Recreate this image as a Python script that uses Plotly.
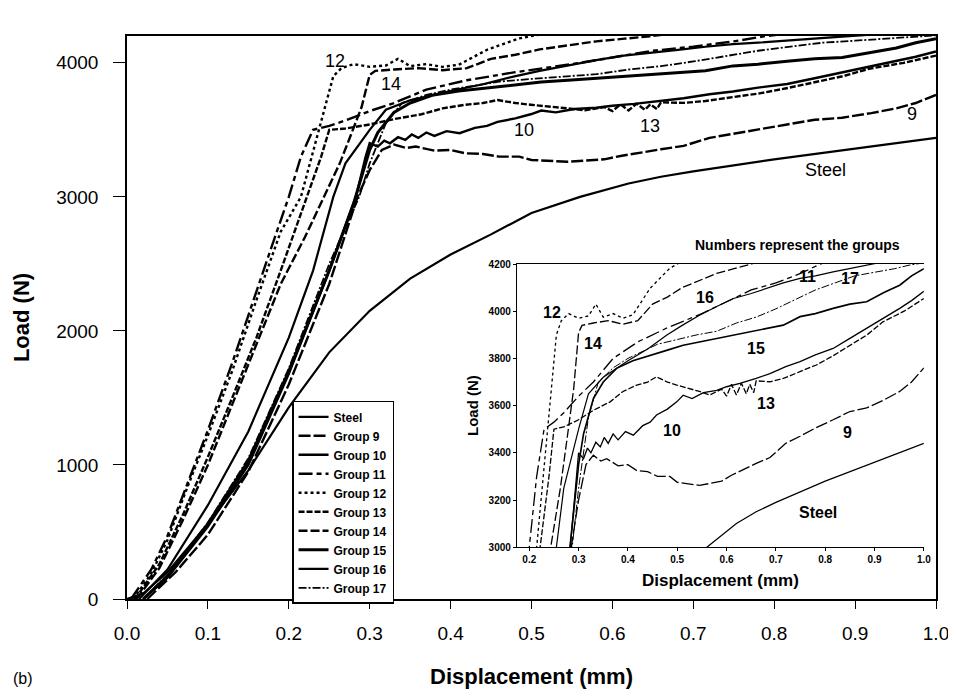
import plotly.graph_objects as go

# ---------------- data ----------------
steel_x = [0, 0.02, 0.05, 0.1, 0.15, 0.2, 0.25, 0.3, 0.35, 0.4, 0.45, 0.5, 0.56, 0.62, 0.66, 0.7, 0.8, 0.9, 1.0]
steel_y = [0, 40, 200, 560, 960, 1430, 1840, 2150, 2390, 2570, 2720, 2880, 3000, 3100, 3150, 3190, 3280, 3360, 3440]

g9_x = [0.025, 0.06, 0.1, 0.15, 0.2, 0.25, 0.285, 0.3, 0.315, 0.33, 0.345, 0.357, 0.38, 0.4, 0.418, 0.44, 0.46, 0.485, 0.5,
        0.526, 0.545, 0.566, 0.59, 0.61, 0.634, 0.66, 0.688, 0.72, 0.749, 0.78, 0.816, 0.85, 0.884, 0.92, 0.951, 0.975, 1.0]
g9_y = [0, 200, 480, 950, 1600, 2350, 3000, 3200, 3350, 3390, 3365, 3375, 3345, 3350, 3325, 3320, 3300, 3300, 3275,
        3268, 3262, 3270, 3280, 3305, 3330, 3355, 3380, 3440, 3470, 3505, 3540, 3575, 3590, 3625, 3660, 3700, 3760]

g10_x = [0.02, 0.05, 0.1, 0.15, 0.2, 0.25, 0.283, 0.295, 0.3, 0.31, 0.318, 0.325, 0.335, 0.344, 0.352, 0.36, 0.37, 0.38,
         0.395, 0.411, 0.43, 0.445, 0.458, 0.48, 0.499, 0.512, 0.53, 0.553, 0.58, 0.6, 0.627, 0.66, 0.688, 0.72, 0.749,
         0.78, 0.816, 0.85, 0.884, 0.92, 0.951, 0.975, 1.0]
g10_y = [0, 160, 540, 1000, 1680, 2450, 3000, 3300, 3400, 3375, 3420, 3400, 3445, 3425, 3465, 3440, 3480, 3455,
         3490, 3475, 3515, 3530, 3560, 3585, 3616, 3644, 3630, 3655, 3665, 3680, 3694, 3715, 3736, 3765, 3786,
         3815, 3842, 3885, 3927, 3975, 4012, 4045, 4085]

g11_x = [0.005, 0.03, 0.05, 0.075, 0.1, 0.13, 0.16, 0.18, 0.2, 0.215, 0.23, 0.25, 0.27, 0.3, 0.33, 0.37, 0.42, 0.48,
         0.55, 0.6, 0.65, 0.7, 0.75, 0.79, 0.85]
g11_y = [0, 220, 470, 870, 1260, 1760, 2300, 2650, 3000, 3300, 3500, 3530, 3570, 3640, 3700, 3800, 3870, 3930,
         3990, 4040, 4090, 4120, 4160, 4200, 4240]

g12_x = [0.008, 0.03, 0.05, 0.075, 0.1, 0.13, 0.16, 0.19, 0.215, 0.235, 0.255, 0.265, 0.28, 0.3, 0.32, 0.335, 0.35,
         0.37, 0.39, 0.41, 0.43, 0.445, 0.465, 0.485, 0.5, 0.55, 0.6]
g12_y = [0, 190, 440, 840, 1220, 1700, 2230, 2740, 3000, 3450, 3900, 3960, 3990, 3970, 3980, 4030, 3975,
         3990, 3970, 3985, 4050, 4097, 4140, 4182, 4200, 4250, 4300]

g13_x = [0.01, 0.04, 0.07, 0.1, 0.13, 0.16, 0.19, 0.222, 0.24, 0.25, 0.27, 0.3, 0.33, 0.364, 0.39, 0.418, 0.44, 0.458,
         0.48, 0.499, 0.526, 0.545, 0.566, 0.59, 0.6, 0.61, 0.62, 0.63, 0.64, 0.647, 0.655, 0.66, 0.688, 0.715, 0.75,
         0.782, 0.815, 0.85, 0.885, 0.917, 0.96, 1.0]
g13_y = [0, 260, 640, 1060, 1500, 1950, 2450, 3000, 3300, 3500, 3510, 3540, 3580, 3616, 3660, 3687, 3700, 3722,
         3700, 3687, 3673, 3660, 3645, 3670, 3640, 3690, 3645, 3695, 3650, 3690, 3655, 3705, 3701, 3715, 3745,
         3772, 3810, 3856, 3900, 3955, 4000, 4054]

g14_x = [0.012, 0.04, 0.07, 0.1, 0.13, 0.16, 0.19, 0.22, 0.243, 0.263, 0.276, 0.29, 0.3, 0.307, 0.33, 0.36, 0.39,
         0.42, 0.45, 0.48, 0.51, 0.545, 0.58, 0.615, 0.65, 0.7, 0.75]
g14_y = [0, 230, 600, 1000, 1450, 1900, 2350, 2700, 3000, 3250, 3450, 3670, 3910, 3940, 3950, 3960, 3945,
         3960, 4030, 4060, 4100, 4130, 4160, 4180, 4200, 4240, 4280]

g15_x = [0.02, 0.05, 0.1, 0.15, 0.2, 0.25, 0.28, 0.29, 0.3, 0.31, 0.33, 0.35, 0.377, 0.41, 0.445, 0.48, 0.512, 0.545,
         0.58, 0.61, 0.647, 0.68, 0.715, 0.749, 0.78, 0.816, 0.85, 0.884, 0.92, 0.951, 0.975, 1.0]
g15_y = [0, 170, 560, 1030, 1700, 2450, 2950, 3150, 3350, 3480, 3630, 3700, 3758, 3790, 3814, 3835, 3856, 3870,
         3885, 3895, 3913, 3925, 3941, 3977, 3990, 4012, 4030, 4040, 4080, 4110, 4150, 4180]

g16_x = [0.015, 0.05, 0.1, 0.15, 0.2, 0.23, 0.255, 0.27, 0.3, 0.32, 0.35, 0.4, 0.44, 0.479, 0.51, 0.546, 0.58, 0.614,
         0.65, 0.681, 0.715, 0.749, 0.78, 0.816, 0.85, 0.884, 0.92, 0.96, 1.0]
g16_y = [0, 220, 700, 1250, 1950, 2450, 3000, 3250, 3500, 3650, 3720, 3790, 3840, 3899, 3940, 3984, 4020, 4054,
         4075, 4097, 4120, 4139, 4150, 4167, 4180, 4196, 4210, 4215, 4225]

g17_x = [0.02, 0.05, 0.1, 0.15, 0.2, 0.25, 0.287, 0.3, 0.32, 0.34, 0.37, 0.4, 0.43, 0.46, 0.5, 0.54, 0.58, 0.62, 0.66,
         0.7, 0.74, 0.78, 0.82, 0.86, 0.9, 0.94, 0.97, 1.0]
g17_y = [0, 180, 570, 1050, 1720, 2500, 3000, 3250, 3550, 3700, 3760, 3800, 3830, 3860, 3880, 3900, 3915, 3950, 3975,
         4010, 4050, 4090, 4120, 4150, 4165, 4180, 4195, 4205]

series_names = ["Steel", "Group 9", "Group 10", "Group 11", "Group 12", "Group 13",
                "Group 14", "Group 15", "Group 16", "Group 17"]
series_x = [steel_x, g9_x, g10_x, g11_x, g12_x, g13_x, g14_x, g15_x, g16_x, g17_x]
series_y = [steel_y, g9_y, g10_y, g11_y, g12_y, g13_y, g14_y, g15_y, g16_y, g17_y]

x_ticks = [0.0, 0.1, 0.2, 0.3, 0.4, 0.5, 0.6, 0.7, 0.8, 0.9, 1.0]
y_ticks = [0, 1000, 2000, 3000, 4000]
inset_x_ticks = [0.2, 0.3, 0.4, 0.5, 0.6, 0.7, 0.8, 0.9, 1.0]
inset_y_ticks = [3000, 3200, 3400, 3600, 3800, 4000, 4200]

main_labels = [("17", 0.735, 4290), ("11", 0.784, 4285), ("16", 0.921, 4290), ("15", 0.986, 4290),
               ("12", 0.257, 4010), ("14", 0.326, 3840), ("10", 0.491, 3500), ("13", 0.647, 3530),
               ("9", 0.97, 3620), ("Steel", 0.863, 3200)]
inset_labels = [("12", 0.247, 3996), ("14", 0.33, 3865), ("16", 0.556, 4060), ("11", 0.765, 4145),
                ("17", 0.85, 4140), ("15", 0.66, 3844), ("13", 0.68, 3610), ("10", 0.49, 3496),
                ("9", 0.846, 3488), ("Steel", 0.785, 3148)]

# ---------------- styles ----------------
dashes = ["solid", "12px,3px", "solid", "14px,4px,5px,4px", "dot", "6px,2px",
          "9px,3px", "solid", "solid", "8px,2px,2px,2px"]
widths = [2.2, 2.4, 2.4, 2.4, 2.4, 2.4, 2.4, 3.0, 2.2, 1.8]

BASE = "Liberation Sans, Arial, sans-serif"

fig = go.Figure()
for name, xs, ys, d, w in zip(series_names, series_x, series_y, dashes, widths):
    fig.add_trace(go.Scatter(x=xs, y=ys, mode="lines", name=name,
                             line=dict(color="black", width=w, dash=d),
                             xaxis="x", yaxis="y"))
for name, xs, ys, d, w in zip(series_names, series_x, series_y, dashes, widths):
    fig.add_trace(go.Scatter(x=xs, y=ys, mode="lines", name=name, showlegend=False,
                             line=dict(color="black", width=max(1.0, w * 0.55), dash=d),
                             xaxis="x2", yaxis="y2"))

annotations = []
for t, x, y in main_labels:
    annotations.append(dict(text=t, x=x, y=y, xref="x", yref="y", showarrow=False,
                            xanchor="center", yanchor="middle",
                            font=dict(family=BASE, size=18, color="black")))
for t, x, y in inset_labels:
    annotations.append(dict(text="<b>%s</b>" % t, x=x, y=y, xref="x2", yref="y2", showarrow=False,
                            xanchor="center", yanchor="middle",
                            font=dict(family=BASE, size=16, color="black")))
annotations.append(dict(text="<b>Numbers represent the groups</b>", x=0.829, y=0.629, xref="paper",
                        yref="paper", showarrow=False, xanchor="center", yanchor="middle",
                        font=dict(family=BASE, size=14, color="black")))
annotations.append(dict(text="(b)", x=-0.143, y=-0.142, xref="paper", yref="paper", showarrow=False,
                        xanchor="left", yanchor="middle", font=dict(family=BASE, size=16, color="black")))

# page body has an 8px margin: the figure is offset so the plot area lands at
# x 127..936, y 36..599 of the 956x698 window
fig.update_layout(
    width=948, height=690,
    margin=dict(l=119, r=20, t=28, b=99, autoexpand=False),
    paper_bgcolor="white", plot_bgcolor="white",
    showlegend=True,
    legend=dict(x=0.204, y=0.352, xanchor="left", yanchor="top",
                bgcolor="white", bordercolor="black", borderwidth=1.5,
                font=dict(family=BASE, size=12, color="black", weight="bold"),
                tracegroupgap=0, itemwidth=30),
    annotations=annotations,
    xaxis=dict(domain=[0, 1], range=[0, 1.0], tickvals=x_ticks, tickformat=".1f",
               showline=True, linecolor="black", linewidth=1.5, mirror=True,
               ticks="outside", ticklen=8, tickcolor="black", ticklabelstandoff=8,
               showgrid=False, zeroline=False,
               tickfont=dict(family=BASE, size=19, color="black"),
               title=dict(text="<b>Displacement (mm)</b>", standoff=26,
                          font=dict(family=BASE, size=22, color="black"))),
    yaxis=dict(domain=[0, 1], range=[0, 4200], tickvals=y_ticks,
               showline=True, linecolor="black", linewidth=1.5, mirror=True,
               ticks="outside", ticklen=12, tickcolor="black", ticklabelstandoff=11,
               showgrid=False, zeroline=False,
               tickfont=dict(family=BASE, size=19, color="black"),
               title=dict(text="<b>Load (N)</b>", standoff=20,
                          font=dict(family=BASE, size=22, color="black"))),
    xaxis2=dict(domain=[0.482, 0.985], anchor="y2", range=[0.175, 1.0], tickvals=inset_x_ticks,
                tickformat=".1f", showline=True, linecolor="black", linewidth=1.2, mirror=True,
                ticks="outside", ticklen=3, tickcolor="black", showgrid=False, zeroline=False,
                tickfont=dict(family=BASE, size=10, color="black", weight="bold"),
                title=dict(text="<b>Displacement (mm)</b>", standoff=9,
                           font=dict(family=BASE, size=17, color="black"))),
    yaxis2=dict(domain=[0.092, 0.595], anchor="x2", range=[3000, 4200], tickvals=inset_y_ticks,
                showline=True, linecolor="black", linewidth=1.2, mirror=False,
                ticks="outside", ticklen=3, tickcolor="black", showgrid=False, zeroline=False,
                tickfont=dict(family=BASE, size=10, color="black", weight="bold"),
                title=dict(text="<b>Load (N)</b>", standoff=6,
                           font=dict(family=BASE, size=15, color="black"))),
)

fig.write_html("out.html")
